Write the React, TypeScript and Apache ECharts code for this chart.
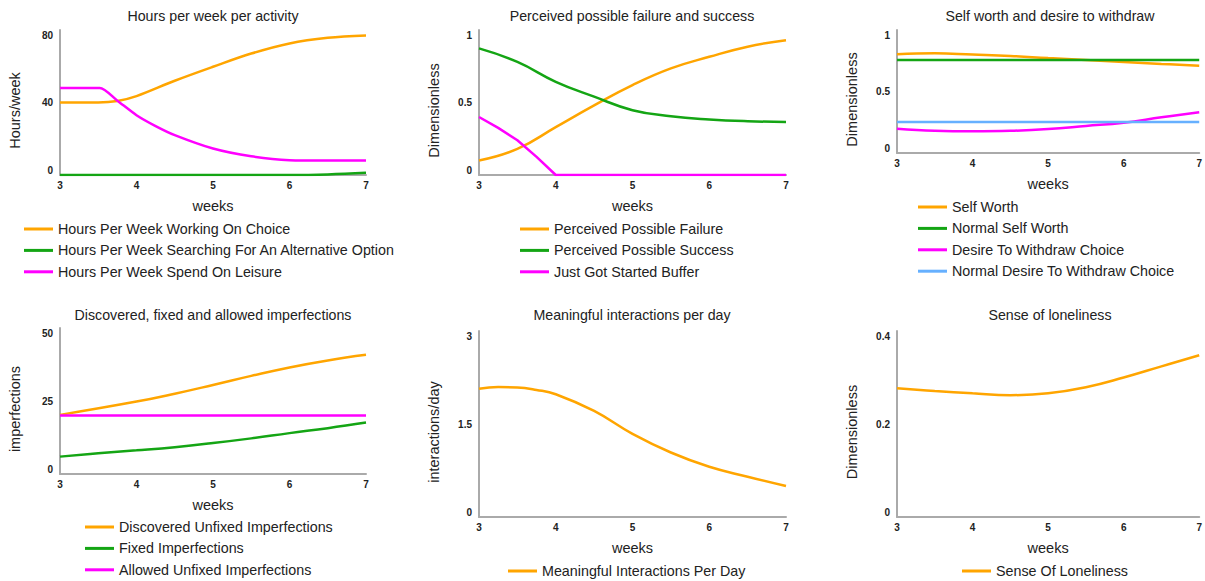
import React, { useEffect, useRef } from "react";
import * as echarts from "echarts";

// ---- Data ----
const TITLES = [
  "Hours per week per activity",
  "Perceived possible failure and success",
  "Self worth and desire to withdraw",
  "Discovered, fixed and allowed imperfections",
  "Meaningful interactions per day",
  "Sense of loneliness",
];
const Y_NAMES = ["Hours/week", "Dimensionless", "Dimensionless", "imperfections", "interactions/day", "Dimensionless"];
const X_NAME = "weeks";
const Y_MAX = [80, 1, 1, 50, 3, 0.4];
const Y_INTERVAL = [40, 0.5, 0.5, 25, 1.5, 0.2];

const WEEKS = [3, 3.5, 4, 4.5, 5, 5.5, 6, 6.5, 7];

// Panel 1
const p1WorkX = [3, 3.5, 3.75, 4, 4.5, 5, 5.5, 6, 6.5, 7];
const p1WorkY = [40, 40, 40.8, 43.5, 52, 59.7, 67, 72.6, 75.7, 77];
const p1SearchX = [3, 4, 5, 6, 6.5, 7];
const p1SearchY = [0, 0, 0, 0, 0.3, 1.2];
const p1LeisureX = [3, 3.52, 3.75, 4, 4.25, 4.5, 5, 5.5, 6, 6.5, 7];
const p1LeisureY = [48, 48, 41, 33, 27, 22, 14.6, 10.3, 8.2, 8, 8];

// Panel 2
const p2FailureY = [0.1, 0.18, 0.33, 0.48, 0.62, 0.735, 0.815, 0.885, 0.93];
const p2SuccessY = [0.873, 0.78, 0.643, 0.54, 0.447, 0.405, 0.383, 0.371, 0.366];
const p2BufferX = [3, 3.25, 3.5, 3.75, 4, 5, 6, 7];
const p2BufferY = [0.4, 0.325, 0.24, 0.125, 0, 0, 0, 0];

// Panel 3
const p3SelfWorthY = [0.802, 0.81, 0.8, 0.789, 0.772, 0.756, 0.74, 0.724, 0.71];
const p3NormalSelfWorthY = [0.756, 0.756, 0.756, 0.756, 0.756, 0.756, 0.756, 0.756, 0.756];
const p3DesireY = [0.198, 0.181, 0.176, 0.18, 0.195, 0.22, 0.246, 0.29, 0.331];
const p3NormalDesireY = [0.252, 0.252, 0.252, 0.252, 0.252, 0.252, 0.252, 0.252, 0.252];

// Panel 4
const p4DiscoveredX = [3, 4, 4.5, 5, 5.5, 6, 6.5, 7];
const p4DiscoveredY = [20.25, 24.8, 27.5, 30.5, 33.6, 36.5, 38.9, 40.8];
const p4FixedY = [5.95, 7.1, 8.1, 9.2, 10.6, 12.2, 14, 15.7, 17.6];
const p4AllowedY = [20, 20, 20, 20, 20, 20, 20, 20, 20];

// Panel 5
const p5X = [3, 3.25, 3.5, 3.75, 4, 4.5, 5, 5.5, 6, 6.5, 7];
const p5Y = [2.07, 2.095, 2.09, 2.05, 1.98, 1.71, 1.34, 1.04, 0.81, 0.65, 0.5];

// Panel 6
const p6Y = [0.277, 0.271, 0.266, 0.262, 0.266, 0.279, 0.3, 0.324, 0.348];

const ORANGE = "#ffa500";
const GREEN = "#14a514";
const MAGENTA = "#ff00ff";
const BLUE = "#66b0ff";

type S = { name: string; panel: number; xs: number[]; ys: number[]; color: string; smooth: number | false };
const SERIES: S[] = [
  { name: "Hours Per Week Working On Choice", panel: 0, xs: p1WorkX, ys: p1WorkY, color: ORANGE, smooth: 0.35 },
  { name: "Hours Per Week Searching For An Alternative Option", panel: 0, xs: p1SearchX, ys: p1SearchY, color: GREEN, smooth: 0.4 },
  { name: "Hours Per Week Spend On Leisure", panel: 0, xs: p1LeisureX, ys: p1LeisureY, color: MAGENTA, smooth: 0.25 },
  { name: "Perceived Possible Failure", panel: 1, xs: WEEKS, ys: p2FailureY, color: ORANGE, smooth: 0.45 },
  { name: "Perceived Possible Success", panel: 1, xs: WEEKS, ys: p2SuccessY, color: GREEN, smooth: 0.45 },
  { name: "Just Got Started Buffer", panel: 1, xs: p2BufferX, ys: p2BufferY, color: MAGENTA, smooth: false },
  { name: "Self Worth", panel: 2, xs: WEEKS, ys: p3SelfWorthY, color: ORANGE, smooth: 0.45 },
  { name: "Normal Self Worth", panel: 2, xs: WEEKS, ys: p3NormalSelfWorthY, color: GREEN, smooth: false },
  { name: "Desire To Withdraw Choice", panel: 2, xs: WEEKS, ys: p3DesireY, color: MAGENTA, smooth: 0.45 },
  { name: "Normal Desire To Withdraw Choice", panel: 2, xs: WEEKS, ys: p3NormalDesireY, color: BLUE, smooth: false },
  { name: "Discovered Unfixed Imperfections", panel: 3, xs: p4DiscoveredX, ys: p4DiscoveredY, color: ORANGE, smooth: 0.45 },
  { name: "Fixed Imperfections", panel: 3, xs: WEEKS, ys: p4FixedY, color: GREEN, smooth: 0.45 },
  { name: "Allowed Unfixed Imperfections", panel: 3, xs: WEEKS, ys: p4AllowedY, color: MAGENTA, smooth: false },
  { name: "Meaningful Interactions Per Day", panel: 4, xs: p5X, ys: p5Y, color: ORANGE, smooth: 0.45 },
  { name: "Sense Of Loneliness", panel: 5, xs: WEEKS, ys: p6Y, color: ORANGE, smooth: 0.45 },
];

// ---- Layout ----
const GRIDS = [
  { left: 60, top: 30, width: 306, height: 145 },
  { left: 479, top: 30, width: 307, height: 145 },
  { left: 897, top: 30, width: 306, height: 123 },
  { left: 60, top: 328, width: 306, height: 146 },
  { left: 479, top: 331, width: 307, height: 186 },
  { left: 897, top: 331, width: 306, height: 186 },
];
const TITLE_POS = [
  [213, 16], [632, 16], [1050, 16], [213, 315], [632, 315], [1050, 315],
];
const LEGEND_POS = [
  [24, 222], [520, 222], [918, 200], [85, 520], [508, 564], [962, 564],
];

const FONT = "'Liberation Sans', Arial, sans-serif";
const TEXT = "#222";

export default function App() {
  const ref = useRef<HTMLDivElement>(null);
  useEffect(() => {
    document.body.style.margin = "0";
    const chart = echarts.init(ref.current!, null, { renderer: "svg" });
    const option: any = {
      animation: false,
      textStyle: { fontFamily: FONT },
      grid: GRIDS.map((g) => ({ ...g, containLabel: false })),
      xAxis: GRIDS.map((_, i) => ({
        type: "value",
        gridIndex: i,
        min: 3,
        max: 7,
        interval: 1,
        name: X_NAME,
        nameLocation: "middle",
        nameGap: 23,
        nameTextStyle: { fontSize: 14.5, color: TEXT, fontFamily: FONT },
        axisLine: { show: true, onZero: false, lineStyle: { color: "#aaa", width: 2 } },
        axisTick: { show: false },
        splitLine: { show: false },
        axisLabel: { fontSize: 10, color: TEXT, fontWeight: "bold", margin: 5, fontFamily: FONT },
      })),
      yAxis: GRIDS.map((_, i) => ({
        type: "value",
        gridIndex: i,
        min: 0,
        max: Y_MAX[i],
        interval: Y_INTERVAL[i],
        name: Y_NAMES[i],
        nameLocation: "middle",
        nameGap: 38,
        nameTextStyle: { fontSize: 14.5, color: TEXT, fontFamily: FONT, padding: [0, 16, 0, 0] },
        axisLine: { show: true, lineStyle: { color: "#aaa", width: 2 } },
        axisTick: { show: false },
        splitLine: { show: false },
        axisLabel: {
          fontSize: 10,
          color: TEXT,
          fontWeight: "bold",
          margin: 7,
          fontFamily: FONT,
          verticalAlignMinLabel: "bottom",
          verticalAlignMaxLabel: "top",
        },
      })),
      legend: LEGEND_POS.map((p, i) => ({
        orient: "vertical",
        left: p[0],
        top: p[1],
        padding: 0,
        icon: "rect",
        itemWidth: 29,
        itemHeight: 3,
        itemGap: 7.4,
        selectedMode: false,
        textStyle: { fontSize: 14.3, color: TEXT, fontFamily: FONT },
        data: SERIES.filter((s) => s.panel === i).map((s) => s.name),
      })),
      graphic: TITLES.map((t, i) => ({
        type: "text",
        x: TITLE_POS[i][0],
        y: TITLE_POS[i][1],
        style: {
          text: t,
          align: "center",
          verticalAlign: "middle",
          fontSize: 14.2,
          fontFamily: FONT,
          fill: TEXT,
        },
      })),
      series: SERIES.map((s) => ({
        type: "line",
        name: s.name,
        xAxisIndex: s.panel,
        yAxisIndex: s.panel,
        data: s.xs.map((x, k) => [x, s.ys[k]]),
        smooth: s.smooth,
        symbol: "none",
        lineStyle: { color: s.color, width: 2.5 },
        itemStyle: { color: s.color },
      })),
    };
    chart.setOption(option);
    return () => chart.dispose();
  }, []);
  return <div ref={ref} style={{ width: 1205, height: 581 }} />;
}
